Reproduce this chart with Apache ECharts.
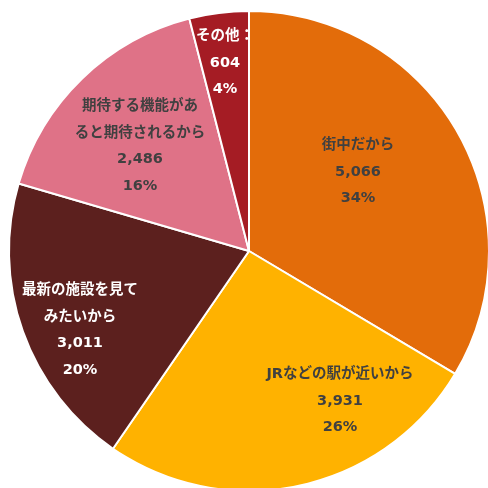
<!DOCTYPE html>
<html>
<head>
<meta charset="utf-8">
<script src="https://cdn.jsdelivr.net/npm/echarts@6/dist/echarts.min.js"></script>
<style>
  html, body { margin: 0; padding: 0; background: #ffffff; }
  #chart { width: 488px; height: 488px; }
</style>
</head>
<body>
<div id="chart"></div>
<script>
// Reasons given (counts), clockwise from 12 o'clock
const categories = [
  '街中だから',
  'JRなどの駅が近いから',
  '最新の施設を見て\nみたいから',
  '期待する機能があ\nると期待されるから',
  'その他：'
];
const counts = [5066, 3931, 3011, 2486, 604];

// Slice fills and label text colours
const sliceColors = ['#E36C0A', '#FFB200', '#5C201E', '#DF7287', '#A51C24'];
const labelColors = ['#404040', '#404040', '#ffffff', '#404040', '#ffffff'];

// Centre point of each label block (px)
const labelCentres = [[358, 172], [340, 401], [80, 330], [140, 146], [225, 63]];

const fmt = n => n.toLocaleString('en-US');

const chart = echarts.init(document.getElementById('chart'), null, { renderer: 'canvas' });
chart.setOption({
  animation: false,
  backgroundColor: '#ffffff',
  series: [{
    type: 'pie',
    center: [249, 251],
    radius: 240,
    startAngle: 90,
    clockwise: true,
    percentPrecision: 0,
    avoidLabelOverlap: false,
    itemStyle: { borderColor: '#ffffff', borderWidth: 2 },
    label: {
      show: true,
      position: 'inside',
      fontFamily: '"DejaVu Sans", "Noto Sans CJK JP", sans-serif',
      fontWeight: 'bold',
      fontSize: 14.5,
      lineHeight: 26.5,
      align: 'center',
      formatter: p => p.name + '\n' + fmt(p.value) + '\n' + p.percent + '%'
    },
    labelLine: { show: false },
    labelLayout: p => ({
      x: labelCentres[p.dataIndex][0],
      y: labelCentres[p.dataIndex][1],
      align: 'center',
      verticalAlign: 'middle'
    }),
    data: categories.map((name, i) => ({
      name: name,
      value: counts[i],
      itemStyle: { color: sliceColors[i] },
      label: { color: labelColors[i] }
    }))
  }]
});
</script>
</body>
</html>
